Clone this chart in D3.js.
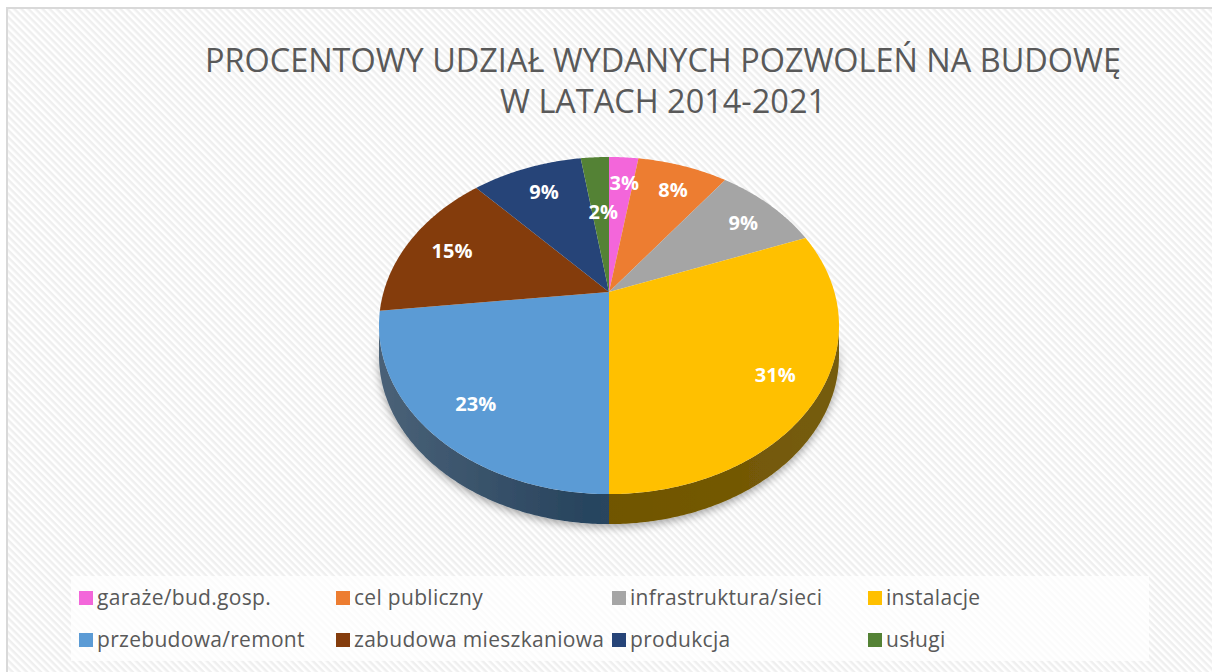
<!DOCTYPE html>
<html>
<head>
<meta charset="utf-8">
<script src="https://cdn.jsdelivr.net/npm/d3@7"></script>
<style>
  body { margin: 0; background: #fff; }
  svg { display: block; }
</style>
</head>
<body>
<div id="chart"></div>
<script>
// data (share of permits, %)
var categories = ["garaże/bud.gosp.", "cel publiczny", "infrastruktura/sieci", "instalacje",
                  "przebudowa/remont", "zabudowa mieszkaniowa", "produkcja", "usługi"];
var values = [2.5, 7.7, 9.0, 30.8, 23.2, 15.0, 9.4, 2.4];
var colors = ["#F366DA", "#ED7D31", "#A5A5A5", "#FFC000", "#5B9BD5", "#843C0C", "#264478", "#548235"];
var titleLines = ["PROCENTOWY UDZIAŁ WYDANYCH POZWOLEŃ NA BUDOWĘ", "W LATACH 2014-2021"];

var svgWidth = 1212;
var svgHeight = 672;

// 3d pie geometry (perspective ellipse)
var cx = 609, cy = 292;
var R = 225.4, S = 161.9, persp = 0.199, depth = 30;

var svg = d3.select("#chart")
  .append("svg")
  .attr("width", svgWidth)
  .attr("height", svgHeight);

var defs = svg.append("defs");

// diagonal hatch background
var pat = defs.append("pattern")
  .attr("id", "hatch")
  .attr("width", 5)
  .attr("height", 5)
  .attr("patternUnits", "userSpaceOnUse")
  .attr("patternTransform", "rotate(45)");
pat.append("rect").attr("width", 5).attr("height", 5).attr("fill", "#ffffff");
pat.append("rect").attr("width", 5).attr("height", 2.5).attr("fill", "#efefef");

var shadow = defs.append("filter")
  .attr("id", "shadow")
  .attr("x", "-20%").attr("y", "-20%")
  .attr("width", "140%").attr("height", "140%");
shadow.append("feDropShadow")
  .attr("dx", 0).attr("dy", 3)
  .attr("stdDeviation", 4)
  .attr("flood-color", "#000")
  .attr("flood-opacity", 0.35);

var sideGrad = defs.append("linearGradient")
  .attr("id", "sideGrad")
  .attr("gradientUnits", "userSpaceOnUse")
  .attr("x1", cx - R * 1.03).attr("x2", cx + R * 1.03)
  .attr("y1", 0).attr("y2", 0);
sideGrad.append("stop").attr("offset", 0).attr("stop-color", "#fff").attr("stop-opacity", 0.16);
sideGrad.append("stop").attr("offset", 0.45).attr("stop-color", "#fff").attr("stop-opacity", 0);
sideGrad.append("stop").attr("offset", 1).attr("stop-color", "#fff").attr("stop-opacity", 0.04);

// frame
svg.append("rect")
  .attr("x", 7).attr("y", 8)
  .attr("width", svgWidth + 10).attr("height", svgHeight + 10)
  .attr("fill", "url(#hatch)")
  .attr("stroke", "#d9d9d9")
  .attr("stroke-width", 2);

// title
var titleText = svg.append("text")
  .attr("text-anchor", "middle")
  .style("font-family", "Open Sans")
  .style("font-size", "33px")
  .attr("fill", "#595959");
titleText.selectAll("tspan")
  .data(titleLines)
  .enter()
  .append("tspan")
  .attr("x", 663)
  .attr("y", (d, i) => 72 + i * 41)
  .attr("textLength", (d, i) => i === 0 ? 916 : 326)
  .attr("lengthAdjust", "spacingAndGlyphs")
  .text(d => d);

// projection of a point on the pie disc
function proj(a, r, dy) {
  var w = 1 + persp * r * Math.cos(a);
  return [cx + R * r * Math.sin(a) / w, cy - S * r * Math.cos(a) / w + (dy || 0)];
}

function arcPoints(a0, a1, dy) {
  var n = Math.max(2, Math.ceil((a1 - a0) / 0.01));
  var pts = [];
  for (var k = 0; k <= n; k++) pts.push(proj(a0 + (a1 - a0) * k / n, 1, dy));
  return pts;
}

var line = d3.line();

var pie = d3.pie().sort(null).value(d => d);
var arcs = pie(values);

var pieGroup = svg.append("g");

// side walls (visible between the two silhouette angles)
var sideStart = Math.acos(-persp), sideEnd = 2 * Math.PI - Math.acos(-persp);
var sides = pieGroup.append("g").attr("filter", "url(#shadow)");
arcs.forEach(function(d, i) {
  var a0 = Math.max(d.startAngle, sideStart);
  var a1 = Math.min(d.endAngle, sideEnd);
  if (a1 <= a0) return;
  var top = arcPoints(a0, a1, 0);
  var bottom = arcPoints(a0, a1, depth).reverse();
  sides.append("path")
    .attr("d", line(top.concat(bottom)) + "Z")
    .attr("fill", d3.color(colors[i]).darker(2.3));
});
sides.append("path")
  .attr("d", line(arcPoints(sideStart, sideEnd, 0).concat(arcPoints(sideStart, sideEnd, depth).reverse())) + "Z")
  .attr("fill", "url(#sideGrad)");

// top faces
pieGroup.selectAll(".slice")
  .data(arcs)
  .enter()
  .append("path")
  .attr("class", "slice")
  .attr("d", d => line([proj(0, 0)].concat(arcPoints(d.startAngle, d.endAngle, 0))) + "Z")
  .attr("fill", (d, i) => colors[i]);

// data labels
pieGroup.selectAll(".label")
  .data(arcs)
  .enter()
  .append("text")
  .attr("class", "label")
  .attr("x", (d, i) => proj((d.startAngle + d.endAngle) / 2, i === arcs.length - 1 ? 0.57 : 0.8)[0] + 3)
  .attr("y", (d, i) => proj((d.startAngle + d.endAngle) / 2, i === arcs.length - 1 ? 0.57 : 0.8)[1] + 2)
  .attr("dy", "0.36em")
  .attr("text-anchor", "middle")
  .style("font-family", "Open Sans")
  .style("font-weight", "bold")
  .style("font-size", "20px")
  .attr("fill", "#ffffff")
  .text(d => Math.round(d.data) + "%");

// legend
var legendCols = [79, 336, 612, 868];
var legendRows = [598, 640];

svg.append("rect")
  .attr("x", 71).attr("y", 576)
  .attr("width", 1078).attr("height", 85)
  .attr("fill", "#ffffff")
  .attr("opacity", 0.75);

var legend = svg.selectAll(".legend")
  .data(categories)
  .enter()
  .append("g")
  .attr("class", "legend")
  .attr("transform", (d, i) => `translate(${legendCols[i % 4]}, ${legendRows[Math.floor(i / 4)]})`);

legend.append("rect")
  .attr("x", 0).attr("y", -7)
  .attr("width", 14).attr("height", 14)
  .attr("fill", (d, i) => colors[i]);

legend.append("text")
  .attr("x", 18)
  .attr("dy", "0.35em")
  .style("font-family", "Open Sans")
  .style("font-size", "21px")
  .style("letter-spacing", "0.3px")
  .attr("fill", "#595959")
  .text(d => d);
</script>
</body>
</html>
